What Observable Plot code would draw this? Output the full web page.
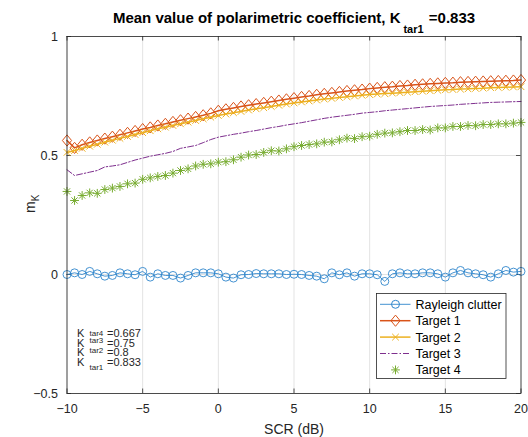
<!DOCTYPE html>
<html><head><meta charset="utf-8">
<script src="https://cdn.jsdelivr.net/npm/d3@7"></script>
<script src="https://cdn.jsdelivr.net/npm/@observablehq/plot@0.6"></script>
<style>
html,body{margin:0;padding:0;background:#fff;}
#wrap{position:relative;width:528px;height:437px;overflow:hidden;font-family:"Liberation Sans",Arial,Helvetica,sans-serif;}
</style></head><body><div id="wrap"></div>
<script>
const scr = [-10,-9.5,-9,-8.5,-8,-7.5,-7,-6.5,-6,-5.5,-5,-4.5,-4,-3.5,-3,-2.5,-2,-1.5,-1,-0.5,0,0.5,1,1.5,2,2.5,3,3.5,4,4.5,5,5.5,6,6.5,7,7.5,8,8.5,9,9.5,10,10.5,11,11.5,12,12.5,13,13.5,14,14.5,15,15.5,16,16.5,17,17.5,18,18.5,19,19.5,20];
const clutter = [0.000,0.007,0.000,0.013,0.003,-0.007,-0.004,0.007,0.003,-0.001,0.013,-0.011,0.003,-0.004,-0.004,-0.015,-0.004,0.007,0.007,0.007,0.003,-0.011,-0.015,-0.001,0.000,0.004,0.003,0.003,0.003,0.000,0.001,0.000,-0.004,-0.007,-0.018,0.007,-0.001,0.007,-0.007,0.003,0.003,-0.001,-0.029,0.003,0.007,0.003,0.003,0.007,0.007,0.003,-0.011,0.007,0.017,0.007,0.003,-0.001,-0.011,0.003,0.017,0.010,0.013];
const target1 = [0.563,0.532,0.545,0.555,0.563,0.571,0.579,0.587,0.595,0.603,0.611,0.618,0.626,0.633,0.641,0.648,0.655,0.662,0.669,0.677,0.688,0.694,0.700,0.706,0.711,0.716,0.721,0.726,0.731,0.736,0.741,0.746,0.750,0.755,0.759,0.763,0.767,0.771,0.774,0.777,0.781,0.784,0.787,0.789,0.792,0.794,0.797,0.799,0.801,0.803,0.805,0.806,0.808,0.809,0.810,0.811,0.812,0.813,0.814,0.815,0.817];
const target2 = [0.513,0.521,0.530,0.539,0.547,0.556,0.564,0.572,0.580,0.588,0.596,0.604,0.612,0.619,0.626,0.633,0.640,0.647,0.654,0.661,0.668,0.674,0.680,0.685,0.691,0.696,0.701,0.706,0.711,0.716,0.721,0.725,0.729,0.733,0.737,0.740,0.744,0.747,0.750,0.753,0.756,0.758,0.760,0.762,0.764,0.766,0.768,0.770,0.772,0.774,0.776,0.777,0.779,0.780,0.782,0.783,0.785,0.786,0.787,0.788,0.789];
const target3 = [0.440,0.416,0.423,0.430,0.437,0.452,0.456,0.461,0.471,0.481,0.489,0.497,0.503,0.509,0.517,0.530,0.536,0.542,0.554,0.567,0.577,0.583,0.589,0.594,0.600,0.605,0.611,0.617,0.622,0.628,0.633,0.638,0.644,0.650,0.656,0.661,0.665,0.669,0.673,0.678,0.681,0.684,0.688,0.691,0.694,0.697,0.700,0.703,0.706,0.708,0.710,0.712,0.715,0.717,0.719,0.721,0.723,0.724,0.725,0.726,0.727];
const target4 = [0.349,0.311,0.332,0.343,0.341,0.357,0.363,0.370,0.381,0.384,0.400,0.406,0.412,0.416,0.426,0.437,0.444,0.456,0.463,0.465,0.472,0.474,0.482,0.493,0.502,0.504,0.513,0.520,0.519,0.528,0.537,0.542,0.546,0.549,0.556,0.557,0.566,0.573,0.571,0.579,0.581,0.589,0.594,0.595,0.600,0.605,0.605,0.609,0.607,0.616,0.616,0.622,0.622,0.626,0.625,0.630,0.630,0.633,0.633,0.636,0.639];
const seriesNames = ["Rayleigh clutter","Target 1","Target 2","Target 3","Target 4"];
const xTicks = [-10,-5,0,5,10,15,20];
const yTicks = [-0.5,0,0.5,1];
const titleMain = "Mean value of polarimetric coefficient, K";
const titleSub = "tar1";
const titleTail = " =0.833";
const xLabel = "SCR (dB)";
const yLabelMain = "m";
const yLabelSub = "K";
const annoMain = "K";
const annoSub = ["tar4","tar3","tar2","tar1"];
const annoVal = ["=0.667","=0.75","=0.8","=0.833"];

const colors = ["#2f86cc","#D95319","#EDB120","#7E2F8E","#77AC30"];
const rows = s => scr.map((x,i)=>({x, y: s[i]}));

const circleSym = {draw(c){ c.moveTo(4,0); c.arc(0,0,4,0,2*Math.PI); c.closePath(); }};
const diamondSym = {draw(c){ c.moveTo(0,-5.6); c.lineTo(4.6,0); c.lineTo(0,5.6); c.lineTo(-4.6,0); c.closePath(); }};
const xSym = {draw(c){ const r=3.3; c.moveTo(-r,-r); c.lineTo(r,r); c.moveTo(-r,r); c.lineTo(r,-r); }};
const starSym = {draw(c){ const r=4.4, d=r*0.7071; c.moveTo(-r,0);c.lineTo(r,0);c.moveTo(0,-r);c.lineTo(0,r);c.moveTo(-d,-d);c.lineTo(d,d);c.moveTo(-d,d);c.lineTo(d,-d);} };

const W = 528, H = 437, mL = 66.5, mR = 7.5, mT = 36, mB = 44;
const fw = W - mL - mR, fh = H - mT - mB;
const dashDot = "6,2,1.5,2";
const fmt = d3.format("");

const marks = [
  Plot.gridX(xTicks, {stroke:"#e3e3e3", strokeOpacity:1}),
  Plot.gridY(yTicks, {stroke:"#e3e3e3", strokeOpacity:1}),
  Plot.ruleX(xTicks, {x: d=>d, insetTop: fh-4.5, stroke:"#262626", strokeWidth:0.8}),
  Plot.ruleX(xTicks, {x: d=>d, insetBottom: fh-4.5, stroke:"#262626", strokeWidth:0.8}),
  Plot.ruleY(yTicks, {y: d=>d, insetRight: fw-4.5, stroke:"#262626", strokeWidth:0.8}),
  Plot.ruleY(yTicks, {y: d=>d, insetLeft: fw-4.5, stroke:"#262626", strokeWidth:0.8}),
  Plot.axisX(xTicks, {anchor:"bottom", tickSize:0, tickPadding:11, fontSize:12.5, label:null, tickFormat:fmt}),
  Plot.axisY(yTicks, {anchor:"left", tickSize:0, tickPadding:9, fontSize:12.5, label:null, tickFormat:fmt}),
  Plot.line(rows(clutter), {x:"x", y:"y", stroke:colors[0], strokeWidth:0.9}),
  Plot.dot(rows(clutter), {x:"x", y:"y", symbol:circleSym, fill:"none", stroke:colors[0], strokeWidth:0.9}),
  Plot.line(rows(target1), {x:"x", y:"y", stroke:colors[1], strokeWidth:1.5}),
  Plot.dot(rows(target1), {x:"x", y:"y", symbol:diamondSym, fill:"none", stroke:colors[1], strokeWidth:1}),
  Plot.line(rows(target2), {x:"x", y:"y", stroke:colors[2], strokeWidth:1.5}),
  Plot.dot(rows(target2), {x:"x", y:"y", symbol:xSym, fill:"none", stroke:colors[2], strokeWidth:1}),
  Plot.line(rows(target3), {x:"x", y:"y", stroke:colors[3], strokeWidth:1, strokeDasharray:dashDot}),
  Plot.dot(rows(target4), {x:"x", y:"y", symbol:starSym, fill:"none", stroke:colors[4], strokeWidth:1}),
  Plot.frame({stroke:"#262626", strokeWidth:0.8}),
  Plot.text([titleMain], {text:d=>d, frameAnchor:"top", dy:-14, lineAnchor:"bottom", fontWeight:"bold", fontSize:15, fill:"#000", ariaLabel:()=>"title"}),
  Plot.text([xLabel], {text:d=>d, frameAnchor:"bottom", dy:40, lineAnchor:"bottom", fontSize:14, fill:"#262626"}),
  Plot.text([yLabelMain], {text:d=>d, frameAnchor:"left", rotate:-90, dx:-32, dy:-2, lineAnchor:"bottom", fontSize:14, fill:"#262626", ariaLabel:()=>"ylabel"}),
  Plot.text([annoMain], {text:d=>d, frameAnchor:"bottom-left", textAnchor:"start", lineAnchor:"bottom", dx:10, fontSize:11, fill:"#262626", ariaLabel:()=>"anno"})
];

const chart = Plot.plot({
  width: W, height: H,
  marginLeft: mL, marginRight: mR, marginTop: mT, marginBottom: mB,
  x: {domain:[-10,20]},
  y: {domain:[-0.5,1]},
  style: {fontFamily:'"Liberation Sans",Arial,Helvetica,sans-serif', color:"#262626", background:"#fff", overflow:"visible"},
  marks
});
document.getElementById("wrap").appendChild(chart);

// subscript tspans for title, y label and annotation
const tt = d3.select(chart).select('text[aria-label="title"]');
tt.text(null);
tt.append("tspan").text(titleMain);
tt.append("tspan").attr("dx", 3).attr("dy", 10).attr("font-size", 11).text(titleSub);
tt.append("tspan").attr("dx", 1).attr("dy", -10).text(titleTail);
const yl = d3.select(chart).select('text[aria-label="ylabel"]');
yl.text(null);
yl.append("tspan").text(yLabelMain);
yl.append("tspan").attr("dy", 4).attr("font-size", 10).text(yLabelSub);
const an = d3.select(chart).select('text[aria-label="anno"]');
an.text(null);
const kY = [-57, -47, -37.5, -28];
const subY = [-57.5, -51, -41, -23.5];
annoSub.forEach((s,i)=>{
  an.append("tspan").attr("x",0).attr("y",kY[i]).text(annoMain);
  an.append("tspan").attr("x",12.5).attr("y",subY[i]).attr("font-size",8).text(s);
  an.append("tspan").attr("x",30).attr("y",kY[i]).text(annoVal[i]);
});

// legend
const syms = [circleSym, diamondSym, xSym, null, starSym];
const lineW = [0.9, 1.5, 1.5, 1, 0];
const leg = d3.select("#wrap").append("svg").attr("width",132).attr("height",88)
  .style("position","absolute").style("left","376px").style("top","293px");
leg.append("rect").attr("x",0.5).attr("y",0.5).attr("width",129.5).attr("height",85)
  .attr("fill","#fff").attr("stroke","#262626").attr("stroke-width",0.8);
seriesNames.forEach((name,i)=>{
  const y = 11.3 + i*16.4;
  if (lineW[i] > 0) {
    leg.append("line").attr("x1",4).attr("x2",34.5).attr("y1",y).attr("y2",y)
      .attr("stroke",colors[i]).attr("stroke-width",lineW[i])
      .attr("stroke-dasharray", i===3 ? dashDot : null);
  }
  if (syms[i]) {
    const p = d3.path(); syms[i].draw(p);
    leg.append("path").attr("d", p.toString()).attr("transform",`translate(19.5,${y})`)
      .attr("fill","none").attr("stroke",colors[i]).attr("stroke-width",1);
  }
  leg.append("text").attr("x",39.5).attr("y",y).attr("dy","0.36em")
    .attr("font-size",12.5).attr("fill","#000").text(name);
});
</script></body></html>
